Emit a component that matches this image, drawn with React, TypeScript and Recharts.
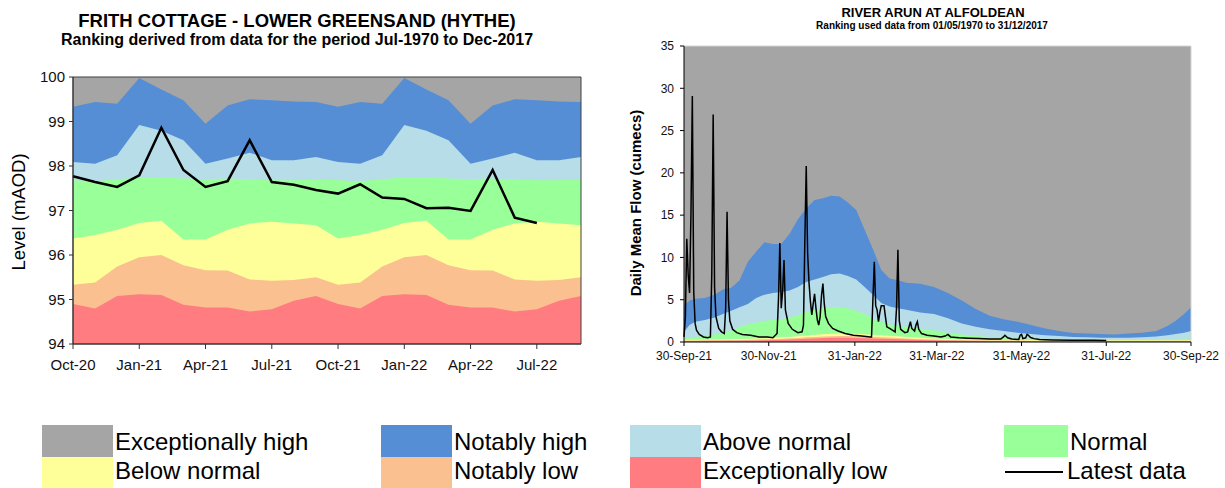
import React from "react";
import {
  ComposedChart,
  Area,
  Line,
  XAxis,
  YAxis,
  ReferenceArea,
  ReferenceLine,
} from "recharts";

const FONT = '"Liberation Sans", Arial, sans-serif';

const BAND_COLORS = {
  exHigh: "#a5a5a5",
  notHigh: "#558ed5",
  above: "#b7dde8",
  normal: "#99ff99",
  below: "#ffff99",
  notLow: "#fac090",
  exLow: "#ff7c80",
};

// ---- Frith Cottage (monthly levels, mAOD) ----
const monthLabels = [
  "Oct-20", "Nov-20", "Dec-20", "Jan-21", "Feb-21", "Mar-21", "Apr-21", "May-21",
  "Jun-21", "Jul-21", "Aug-21", "Sep-21", "Oct-21", "Nov-21", "Dec-21", "Jan-22",
  "Feb-22", "Mar-22", "Apr-22", "May-22", "Jun-22", "Jul-22", "Aug-22", "Sep-22",
];
const levelTicks = [94, 95, 96, 97, 98, 99, 100];
const monthTicks = [0, 3, 6, 9, 12, 15, 18, 21];
const levelExHighTop = [
  100, 100, 100, 100, 100, 100, 100, 100, 100, 100, 100, 100,
  100, 100, 100, 100, 100, 100, 100, 100, 100, 100, 100, 100,
];
const levelNotHighTop = [
  99.33, 99.44, 99.4, 99.98, 99.72, 99.48, 98.95, 99.36, 99.5, 99.48, 99.45, 99.44,
  99.33, 99.44, 99.4, 99.98, 99.72, 99.48, 98.95, 99.36, 99.5, 99.48, 99.45, 99.44,
];
const levelAboveTop = [
  98.09, 98.05, 98.24, 98.92, 98.79, 98.58, 98.05, 98.17, 98.3, 98.13, 98.13, 98.2,
  98.09, 98.05, 98.24, 98.92, 98.79, 98.58, 98.05, 98.17, 98.3, 98.13, 98.13, 98.2,
];
const levelNormalTop = [
  97.68, 97.66, 97.7, 97.74, 97.74, 97.72, 97.7, 97.72, 97.7, 97.68, 97.68, 97.7,
  97.68, 97.66, 97.7, 97.74, 97.74, 97.72, 97.7, 97.72, 97.7, 97.68, 97.68, 97.7,
];
const levelBelowTop = [
  96.37, 96.45, 96.57, 96.72, 96.77, 96.35, 96.35, 96.57, 96.71, 96.75, 96.71, 96.67,
  96.37, 96.45, 96.57, 96.72, 96.77, 96.35, 96.35, 96.57, 96.71, 96.75, 96.71, 96.67,
];
const levelNotLowTop = [
  95.33, 95.38, 95.74, 95.95, 96.0, 95.77, 95.66, 95.65, 95.45, 95.42, 95.44, 95.5,
  95.33, 95.38, 95.74, 95.95, 96.0, 95.77, 95.66, 95.65, 95.45, 95.42, 95.44, 95.5,
];
const levelExLowTop = [
  94.9, 94.8, 95.08, 95.12, 95.1, 94.88, 94.82, 94.82, 94.73, 94.78, 94.97, 95.08,
  94.9, 94.8, 95.08, 95.12, 95.1, 94.88, 94.82, 94.82, 94.73, 94.78, 94.97, 95.08,
];
const latestLevel = [
  97.77, 97.64, 97.53, 97.79, 98.86, 97.91, 97.53, 97.66, 98.58, 97.64, 97.58,
  97.46, 97.38, 97.59, 97.29, 97.26, 97.05, 97.06, 96.99, 97.91, 96.84, 96.72,
];

// ---- River Arun (daily mean flow, cumecs), x = days since 30-Sep-21 ----
const flowTicks = [0, 5, 10, 15, 20, 25, 30, 35];
const dayTicks = [0, 61, 123, 182, 243, 304, 365];
const dayTickLabels = ["30-Sep-21", "30-Nov-21", "31-Jan-22", "31-Mar-22", "31-May-22", "31-Jul-22", "30-Sep-22"];
const bandDays = [
  0, 4, 8, 15, 22, 28, 34, 40, 46, 52, 58, 64, 70, 76, 82, 88, 94, 100, 106, 112,
  118, 124, 130, 136, 142, 148, 154, 160, 170, 180, 190, 200, 210, 220, 230, 240, 250, 260, 270, 280,
  290, 300, 310, 320, 330, 340, 348, 354, 360, 365,
];
const flowExHighTop = [
  35, 35, 35, 35, 35, 35, 35, 35, 35, 35, 35, 35, 35, 35, 35, 35, 35, 35, 35, 35,
  35, 35, 35, 35, 35, 35, 35, 35, 35, 35, 35, 35, 35, 35, 35, 35, 35, 35, 35, 35,
  35, 35, 35, 35, 35, 35, 35, 35, 35, 35,
];
const flowNotHighTop = [
  4.3, 4.9, 5.1, 5.2, 5.6, 6.2, 6.4, 7.3, 9.5, 10.7, 11.8, 11.6, 11.6, 12.8, 14.5, 15.8, 16.8, 17.0, 17.3, 17.2,
  16.5, 15.6, 13.3, 11.0, 8.5, 7.5, 7.3, 7.0, 6.9, 6.5, 5.8, 4.9, 3.9, 3.1, 2.7, 2.4, 2.0, 1.6, 1.3, 1.05,
  1.0, 0.95, 0.9, 1.0, 1.1, 1.3, 1.9, 2.5, 3.3, 4.1,
];
const flowAboveTop = [
  1.2, 2.0, 2.4, 2.6, 2.9, 3.3, 3.7, 4.1, 4.5, 5.2, 5.6, 5.8, 5.9, 6.1, 6.5, 7.1, 7.4, 7.7, 8.0, 8.1,
  7.8, 7.4, 6.5, 5.6, 4.6, 4.2, 4.0, 3.8, 3.5, 3.3, 2.8, 2.2, 1.8, 1.5, 1.3, 1.1, 0.95, 0.8, 0.7, 0.6,
  0.55, 0.5, 0.5, 0.5, 0.55, 0.65, 0.8, 0.95, 1.1, 1.3,
];
const flowNormalTop = [
  0.4, 0.5, 0.6, 0.8, 0.9, 1.1, 1.3, 1.8, 2.1, 2.3, 2.5, 2.6, 2.7, 2.9, 3.2, 3.6, 3.8, 4.0, 4.1, 4.1,
  4.0, 3.7, 3.3, 2.8, 2.4, 2.1, 1.9, 1.8, 1.6, 1.35, 1.1, 0.9, 0.7, 0.6, 0.5, 0.45, 0.4, 0.35, 0.3, 0.3,
  0.3, 0.3, 0.3, 0.3, 0.3, 0.3, 0.32, 0.35, 0.38, 0.4,
];
const flowBelowTop = [
  0.25, 0.26, 0.27, 0.28, 0.3, 0.31, 0.33, 0.35, 0.38, 0.41, 0.45, 0.5, 0.55, 0.6, 0.68, 0.78, 0.86, 0.93, 0.98, 1.0,
  1.0, 0.97, 0.92, 0.86, 0.8, 0.74, 0.68, 0.6, 0.5, 0.42, 0.36, 0.31, 0.28, 0.26, 0.25, 0.24, 0.23, 0.22, 0.22, 0.21,
  0.21, 0.2, 0.2, 0.2, 0.2, 0.2, 0.2, 0.21, 0.22, 0.23,
];
const flowNotLowTop = [
  0.18, 0.18, 0.19, 0.2, 0.21, 0.22, 0.23, 0.25, 0.27, 0.29, 0.32, 0.35, 0.39, 0.43, 0.48, 0.55, 0.6, 0.65, 0.68, 0.7,
  0.7, 0.68, 0.64, 0.6, 0.56, 0.52, 0.47, 0.42, 0.35, 0.3, 0.25, 0.22, 0.2, 0.18, 0.17, 0.17, 0.16, 0.16, 0.15, 0.15,
  0.15, 0.14, 0.14, 0.14, 0.14, 0.14, 0.14, 0.15, 0.15, 0.16,
];
const flowExLowTop = [
  0.12, 0.12, 0.12, 0.13, 0.14, 0.14, 0.15, 0.16, 0.17, 0.19, 0.21, 0.23, 0.26, 0.29, 0.33, 0.38, 0.42, 0.46, 0.49, 0.5,
  0.5, 0.48, 0.45, 0.42, 0.39, 0.36, 0.33, 0.29, 0.24, 0.2, 0.17, 0.15, 0.13, 0.12, 0.11, 0.11, 0.1, 0.1, 0.1, 0.1,
  0.1, 0.1, 0.1, 0.1, 0.1, 0.1, 0.1, 0.1, 0.1, 0.11,
];
const flowDays = [
  0, 1, 2, 3, 4, 5, 6, 7, 8, 9, 11, 14, 17, 19, 20, 21, 22, 23, 25, 27,
  29, 30, 31, 32, 33, 35, 38, 42, 48, 54, 60, 64, 67, 68, 69, 70, 71, 72, 73, 75,
  78, 82, 85, 86, 87, 88, 89, 90, 91, 92, 93, 94, 95, 96, 97, 98, 99, 100, 101, 102,
  104, 107, 111, 116, 122, 128, 134, 135, 136, 137, 138, 139, 140, 141, 142, 144, 145, 146, 148, 150,
  152, 153, 154, 155, 156, 159, 161, 163, 164, 166, 167, 168, 169, 171, 175, 180, 185, 188, 190, 192,
  198, 205, 212, 220, 228, 230, 231, 233, 236, 241, 242, 243, 244, 246, 247, 248, 249, 250, 252, 256,
  265, 280, 295, 304,
];
const flowValues = [
  0.6, 3.0, 12.2, 8.0, 5.8, 15.0, 29.1, 6.0, 2.2, 1.4, 0.9, 0.6, 0.5, 0.6, 8.0, 26.9, 6.5, 3.0, 1.6, 1.2,
  1.0, 4.0, 15.4, 5.0, 2.5, 1.5, 1.1, 0.9, 0.8, 0.6, 0.6, 0.5, 1.0, 5.0, 11.7, 4.0, 6.0, 9.7, 3.8, 2.2,
  1.5, 1.1, 1.2, 2.0, 12.0, 20.8, 10.5, 7.0, 4.8, 3.2, 4.5, 5.7, 4.0, 2.6, 2.0, 3.0, 5.5, 6.9, 4.5, 3.0,
  2.2, 1.6, 1.3, 1.0, 0.8, 0.7, 0.6, 0.6, 5.0, 9.5, 4.3, 3.8, 2.4, 3.5, 4.3, 4.3, 3.0, 1.8, 1.6, 1.4,
  1.2, 4.0, 10.9, 2.5, 1.5, 1.1, 1.2, 2.4, 1.6, 1.3, 2.0, 2.4, 1.5, 1.0, 0.8, 0.7, 0.6, 0.7, 0.9, 0.6,
  0.5, 0.45, 0.4, 0.35, 0.35, 0.6, 0.8, 0.5, 0.35, 0.3, 0.8, 0.9, 0.4, 0.5, 0.9, 0.8, 0.6, 0.5, 0.4, 0.3,
  0.25, 0.22, 0.2, 0.18,
];

const LEGEND = [
  { label: "Exceptionally high", color: BAND_COLORS.exHigh, x: 42, row: 0 },
  { label: "Notably high", color: BAND_COLORS.notHigh, x: 381, row: 0 },
  { label: "Above normal", color: BAND_COLORS.above, x: 630, row: 0 },
  { label: "Normal", color: BAND_COLORS.normal, x: 1004, row: 0 },
  { label: "Below normal", color: BAND_COLORS.below, x: 42, row: 1 },
  { label: "Notably low", color: BAND_COLORS.notLow, x: 381, row: 1 },
  { label: "Exceptionally low", color: BAND_COLORS.exLow, x: 630, row: 1 },
];

const levelRows = monthLabels.map((m, i) => ({
  i,
  eh: levelExHighTop[i],
  nh: levelNotHighTop[i],
  an: levelAboveTop[i],
  nm: levelNormalTop[i],
  bn: levelBelowTop[i],
  nl: levelNotLowTop[i],
  el: levelExLowTop[i],
  latest: latestLevel[i],
}));

const bandRows = bandDays.map((d, i) => ({
  d,
  eh: flowExHighTop[i],
  nh: flowNotHighTop[i],
  an: flowAboveTop[i],
  nm: flowNormalTop[i],
  bn: flowBelowTop[i],
  nl: flowNotLowTop[i],
  el: flowExLowTop[i],
}));

const flowRows = flowDays.map((d, i) => ({ d, flow: flowValues[i] }));

const BAND_KEYS: { key: string; color: string }[] = [
  { key: "eh", color: BAND_COLORS.exHigh },
  { key: "nh", color: BAND_COLORS.notHigh },
  { key: "an", color: BAND_COLORS.above },
  { key: "nm", color: BAND_COLORS.normal },
  { key: "bn", color: BAND_COLORS.below },
  { key: "nl", color: BAND_COLORS.notLow },
  { key: "el", color: BAND_COLORS.exLow },
];

function bandAreas(base: number) {
  return BAND_KEYS.map((b) => (
    <Area
      key={b.key}
      dataKey={b.key}
      type="linear"
      stroke="none"
      fill={b.color}
      fillOpacity={1}
      baseValue={base}
      isAnimationActive={false}
      dot={false}
      activeDot={false}
    />
  ));
}

export default function App() {
  return (
    <div style={{ position: "relative", width: 1225, height: 488, background: "#fff", fontFamily: FONT }}>
      <style>{"body{margin:0}"}</style>

      <div style={{ position: "absolute", left: 0, top: 0 }}>
        <ComposedChart
          width={600}
          height={380}
          data={levelRows}
          margin={{ top: 77, right: 19, bottom: 6, left: 13 }}
        >
          <XAxis
            dataKey="i"
            type="number"
            domain={[0, 23]}
            ticks={monthTicks}
            interval={0}
            tickFormatter={(v) => monthLabels[v]}
            tickSize={5}
            tickMargin={10}
            height={30}
            stroke="#333"
            tick={{ fill: "#111", fontSize: 15, fontFamily: FONT }}
          />
          <YAxis
            type="number"
            domain={[94, 100]}
            ticks={levelTicks}
            interval={0}
            width={60}
            tickSize={4}
            tickMargin={4}
            stroke="#333"
            tick={{ fill: "#111", fontSize: 15, fontFamily: FONT }}
          />
          {bandAreas(94)}
          <ReferenceArea x1={0} x2={23} y1={94} y2={100} fill="none" stroke="#404040" strokeWidth={1} />
          <Line
            dataKey="latest"
            type="linear"
            stroke="#000"
            strokeWidth={2.5}
            dot={false}
            activeDot={false}
            isAnimationActive={false}
          />
        </ComposedChart>
      </div>

      <div style={{ position: "absolute", left: 600, top: 0 }}>
        <ComposedChart
          width={625}
          height={380}
          data={bandRows}
          margin={{ top: 46, right: 34, bottom: 13, left: 44 }}
        >
          <XAxis
            dataKey="d"
            type="number"
            domain={[0, 365]}
            ticks={dayTicks}
            interval={0}
            tickFormatter={(v) => dayTickLabels[dayTicks.indexOf(v)]}
            tickSize={4}
            tickMargin={5}
            height={25}
            stroke="#000"
            tick={{ fill: "#111", fontSize: 12, fontFamily: FONT }}
          />
          <YAxis
            type="number"
            domain={[0, 35]}
            ticks={flowTicks}
            interval={0}
            width={40}
            tickSize={4}
            tickMargin={6}
            stroke="#000"
            tick={{ fill: "#111", fontSize: 12, fontFamily: FONT }}
          />
          {bandAreas(0)}
          <ReferenceLine y={35} stroke="#d4d4d4" />
          <ReferenceLine x={365} stroke="#d4d4d4" />
          <Line
            data={flowRows}
            dataKey="flow"
            type="linear"
            stroke="#000"
            strokeWidth={1.5}
            dot={false}
            activeDot={false}
            isAnimationActive={false}
          />
        </ComposedChart>
      </div>

      <svg
        width={1225}
        height={488}
        style={{ position: "absolute", left: 0, top: 0, pointerEvents: "none" }}
        fontFamily={FONT}
      >
        <text x={297} y={27} textAnchor="middle" fontSize={18.5} fontWeight="bold" fill="#000">
          FRITH COTTAGE - LOWER GREENSAND (HYTHE)
        </text>
        <text x={297} y={45} textAnchor="middle" fontSize={16} fontWeight="bold" fill="#000">
          Ranking derived from data for the period Jul-1970 to Dec-2017
        </text>
        <text transform="translate(25,212) rotate(-90)" textAnchor="middle" fontSize={18.5} fill="#000">
          Level (mAOD)
        </text>

        <text x={933} y={17} textAnchor="middle" fontSize={13} fontWeight="bold" fill="#000">
          RIVER ARUN AT ALFOLDEAN
        </text>
        <text x={932} y={29} textAnchor="middle" fontSize={10} fontWeight="bold" fill="#000">
          Ranking used data from 01/05/1970 to 31/12/2017
        </text>
        <text transform="translate(641,203) rotate(-90)" textAnchor="middle" fontSize={15} fontWeight="bold" fill="#000">
          Daily Mean Flow (cumecs)
        </text>

        {LEGEND.map((l) => (
          <g key={l.label}>
            <rect x={l.x} y={l.row === 0 ? 425 : 457} width={l.label === "Normal" ? 64 : 71} height={l.row === 0 ? 32 : 31} fill={l.color} />
            <text x={l.x + (l.label === "Normal" ? 66 : 73)} y={l.row === 0 ? 450 : 479} fontSize={24} fill="#000">
              {l.label}
            </text>
          </g>
        ))}
        <line x1={1005} x2={1063} y1={472} y2={472} stroke="#000" strokeWidth={2} />
        <text x={1067} y={479} fontSize={24} fill="#000">
          Latest data
        </text>
      </svg>
    </div>
  );
}
